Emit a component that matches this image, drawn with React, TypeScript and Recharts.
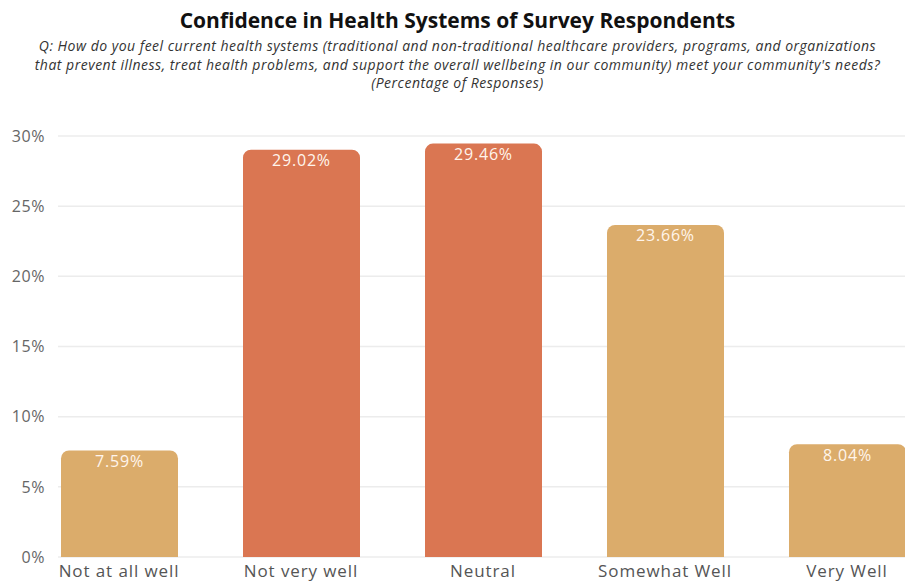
import React from "react";
import {
  BarChart,
  Bar,
  XAxis,
  YAxis,
  CartesianGrid,
  Cell,
  LabelList,
} from "recharts";

const categories = [
  "Not at all well",
  "Not very well",
  "Neutral",
  "Somewhat Well",
  "Very Well",
];
const percentages = [7.59, 29.02, 29.46, 23.66, 8.04];
const yTicks = [0, 5, 10, 15, 20, 25, 30];

const TAN = "#DBAC6B";
const ORANGE = "#DA7652";
const barColors = [TAN, ORANGE, ORANGE, TAN, TAN];

const FONT = "'Open Sans', 'Noto Sans', sans-serif";

const data = categories.map((name, i) => ({ name, value: percentages[i] }));

// grid lines start a bit right of the plot edge, like the original
const gridLine = (props: any) => (
  <line
    key={props.key ?? `g-${props.y1}`}
    x1={58}
    x2={props.x2}
    y1={props.y1}
    y2={props.y2}
    stroke="#ECECEC"
    strokeWidth={1.5}
  />
);

export default function App() {
  return (
    <div
      style={{
        position: "fixed",
        left: 0,
        top: 0,
        width: 905,
        height: 584,
        overflow: "hidden",
        background: "#fff",
        fontFamily: FONT,
      }}
    >
      <div
        style={{
          position: "absolute",
          top: 6,
          left: 0,
          width: 915,
          textAlign: "center",
          fontSize: 21,
          fontWeight: 700,
          color: "#111",
          lineHeight: "28px",
        }}
      >
        Confidence in Health Systems of Survey Respondents
      </div>
      <div
        style={{
          position: "absolute",
          top: 37,
          left: 0,
          width: 915,
          textAlign: "center",
          fontSize: 14,
          letterSpacing: 0.5,
          fontStyle: "italic",
          color: "#333",
          lineHeight: "18.5px",
        }}
      >
        Q: How do you feel current health systems (traditional and
        non-traditional healthcare providers, programs, and organizations
        <br />
        that prevent illness, treat health problems, and support the overall
        wellbeing in our community) meet your community's needs?
        <br />
        (Percentage of Responses)
      </div>
      <div style={{ position: "absolute", left: 0, top: 0 }}>
        <BarChart
          width={940}
          height={584}
          data={data}
          margin={{ top: 136, right: 2, bottom: 0, left: 0 }}
        >
          <CartesianGrid vertical={false} horizontal={gridLine} />
          <YAxis
            width={28}
            domain={[0, 30]}
            ticks={yTicks}
            interval={0}
            axisLine={false}
            tickLine={false}
            tickFormatter={(v: number) => `${v}%`}
            tick={{
              fill: "#666",
              fontSize: 16,
              fontFamily: FONT,
              dx: 25,
              style: { letterSpacing: 0.6 },
            }}
          />
          <XAxis
            dataKey="name"
            height={27}
            axisLine={false}
            tickLine={false}
            interval={0}
            tick={{
              fill: "#555",
              fontSize: 17,
              fontFamily: FONT,
              style: { letterSpacing: 0.9 },
            }}
          />
          <Bar
            dataKey="value"
            barSize={117}
            radius={[8, 8, 0, 0]}
            isAnimationActive={false}
          >
            {data.map((_, i) => (
              <Cell key={i} fill={barColors[i]} />
            ))}
            <LabelList
              dataKey="value"
              position="insideTop"
              formatter={(v: any) => `${Number(v).toFixed(2)}%`}
              fill="#fff"
              style={{
                fontSize: 16,
                fontFamily: FONT,
                fill: "#FFF5EC",
                letterSpacing: 0.8,
              }}
            />
          </Bar>
        </BarChart>
      </div>
    </div>
  );
}
